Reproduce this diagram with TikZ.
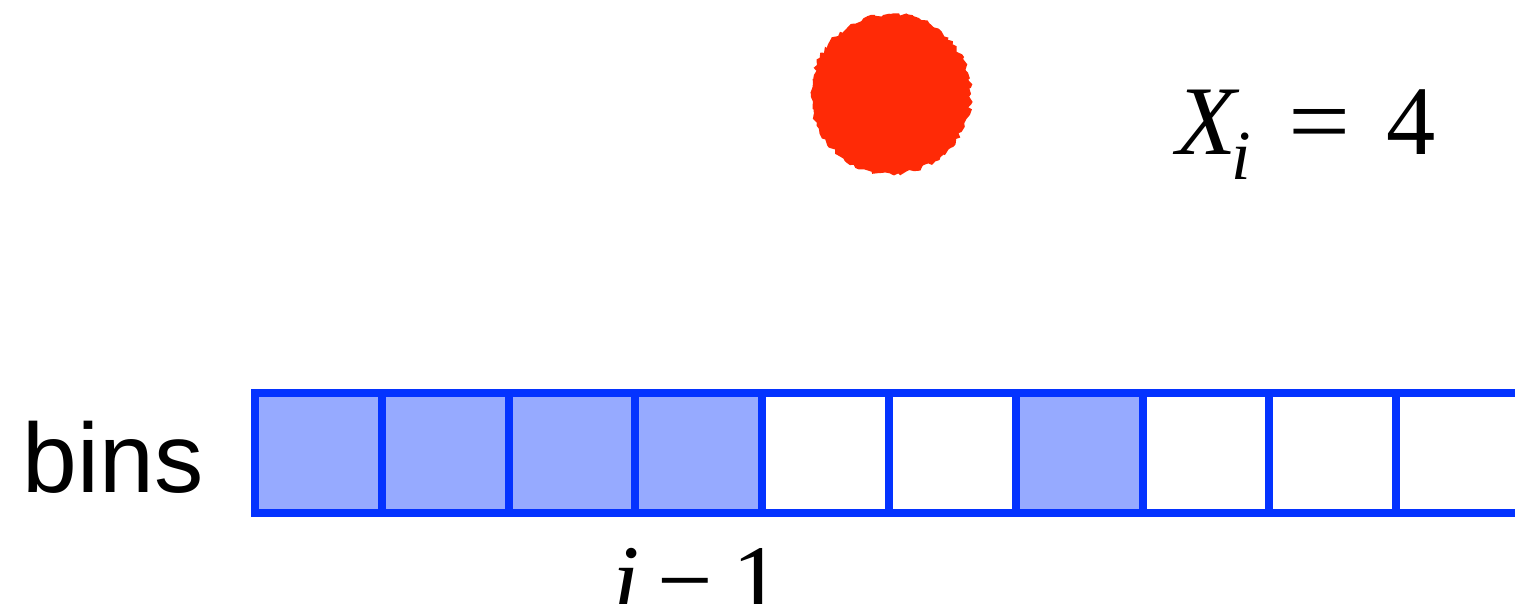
\documentclass[tikz,border=0pt]{standalone}
\usepackage{fontspec}
\usepackage{xcolor}
\usepackage{graphicx}
\usepackage{tikz}
\usetikzlibrary{positioning,calc,decorations.pathmorphing}
\newfontfamily\tmsfont{Liberation Serif}
\newfontfamily\binsfont{Liberation Sans}
\definecolor{binblue}{HTML}{0433FF}
\definecolor{binfill}{HTML}{96AAFF}
\definecolor{ballred}{HTML}{FF2A06}

\tikzset{
  binbox/.style={draw=binblue, line width=0.08cm, rectangle, inner sep=0pt, outer sep=0pt,
    minimum width=1.268cm, minimum height=1.2cm},
  fullbin/.style={fill=binfill},
  emptybin/.style={fill=white},
  bigtext/.style={inner sep=0pt, font=\fontsize{28}{30}\selectfont}
}

\begin{document}
\begin{tikzpicture}[x=0.01cm, y=-0.01cm]
  \useasboundingbox (0,0) rectangle (1515,604);
  % ball
  \node[circle, fill=ballred, minimum size=1.6cm, inner sep=0pt,
    decorate, decoration={random steps, segment length=1pt, amplitude=0.6pt}] (ball) at (891,94) {};
  \node[bigtext, anchor=base west] (xval) at (1176,155)
    {\tmsfont\itshape X\hspace{-0.05em}\raisebox{-0.25em}{\fontsize{20}{20}\selectfont i}\hspace{0.38em}\upshape\scalebox{1.12}[1]{=}\hspace{0.36em}4};
  % bins
  \foreach \k/\f in {1/full,2/full,3/full,4/full,5/empty,6/empty,7/full,8/empty,9/empty,10/empty}
    \node[binbox, \f bin] (bin\k) at ({255+126.8*(\k-0.5)},453) {};
  \node[bigtext, anchor=base east, font=\fontsize{28}{30}\binsfont] (binslabel) at (204,493) {bins};
  \node[bigtext, anchor=base] (idx) at ($(bin4.south)+(-2,100)$)
    {\tmsfont\itshape i\hspace{0.18em}\upshape−\hspace{0.2em}1};
\end{tikzpicture}
\end{document}
